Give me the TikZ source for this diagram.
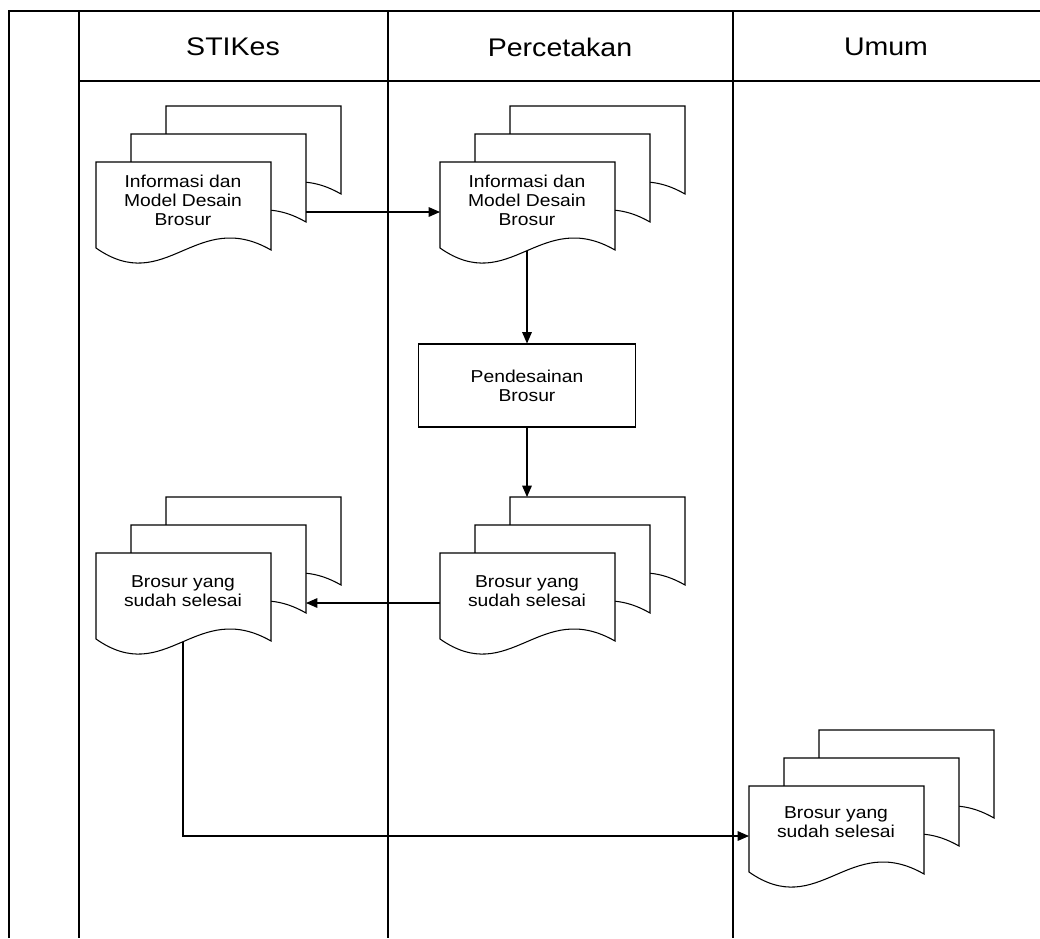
\documentclass[tikz,border=0pt]{standalone}
\usepackage{fontspec}
\setmainfont[FakeStretch=1.12]{Liberation Sans}
\usetikzlibrary{arrows.meta}

\tikzset{
  page/.style={draw=black, fill=white, line width=0.6pt},
  pics/pages/.style={code={
    \foreach \d in {2,1,0}
      \draw[page, shift={(35*\d,-28*\d)}] (0,0) -- (175,0) -- (175,88)
        .. controls (100,45) and (70,135) .. (0,86) -- cycle;
    \coordinate (-l) at (0,50);
    \coordinate (-r) at (210,50);
    \coordinate (-t) at (87,-56);
    \coordinate (-b) at (87,89);
  }}
}

\begin{document}
\begin{tikzpicture}[x=0.02cm, y=-0.02cm, >={Triangle[length=6.5pt,width=5.5pt]}]
\useasboundingbox (0,0) rectangle (1040,938);

% lanes
\begin{scope}[line width=0.8pt]
    \draw (9,938) -- (9,11) -- (1040,11);
    \draw (79,81) -- (1040,81);
    \draw (79,11) -- (79,938);
    \draw (388,11) -- (388,938);
    \draw (733,11) -- (733,938);
\end{scope}

\begin{scope}[every node/.style={font=\fontsize{14.5}{17}\selectfont}]
    \node (stikes) at (233,47) {STIKes};
    \node (cetak) at (560,47) {Percetakan};
    \node (umum) at (886,47) {Umum};
\end{scope}

% documents
\pic (info1) at (96,162) {pages};
\pic (info2) at (440,162) {pages};
\pic (jadi1) at (96,553) {pages};
\pic (jadi2) at (440,553) {pages};
\pic (jadi3) at (749,786) {pages};

\begin{scope}[every node/.style={font=\fontsize{9.8}{10.9}\selectfont, align=center}]
    \node (info1txt) at (183,200) {Informasi dan\\Model Desain\\Brosur};
    \node (info2txt) at (527,200) {Informasi dan\\Model Desain\\Brosur};
    \node (desain) at (527,385.5) [draw=black, fill=white, line width=0.6pt,
        minimum width=4.34cm, minimum height=1.66cm] {Pendesainan\\Brosur};
    \node (jadi1txt) at (183,591) {Brosur yang\\sudah selesai};
    \node (jadi2txt) at (527,591) {Brosur yang\\sudah selesai};
    \node (jadi3txt) at (836,822) {Brosur yang\\sudah selesai};
\end{scope}

\begin{scope}[every edge/.style={draw=black, line width=0.6pt}]
    \path [->] (info1-r) edge (info2-l);
    \path [->] (info2-b) edge (desain);
    \path [->] (desain) edge (jadi2-t);
    \path [->] (jadi2-l) edge (jadi1-r);
    \draw [->, line width=0.6pt] (jadi1-b) |- (jadi3-l);
\end{scope}
\end{tikzpicture}
\end{document}
